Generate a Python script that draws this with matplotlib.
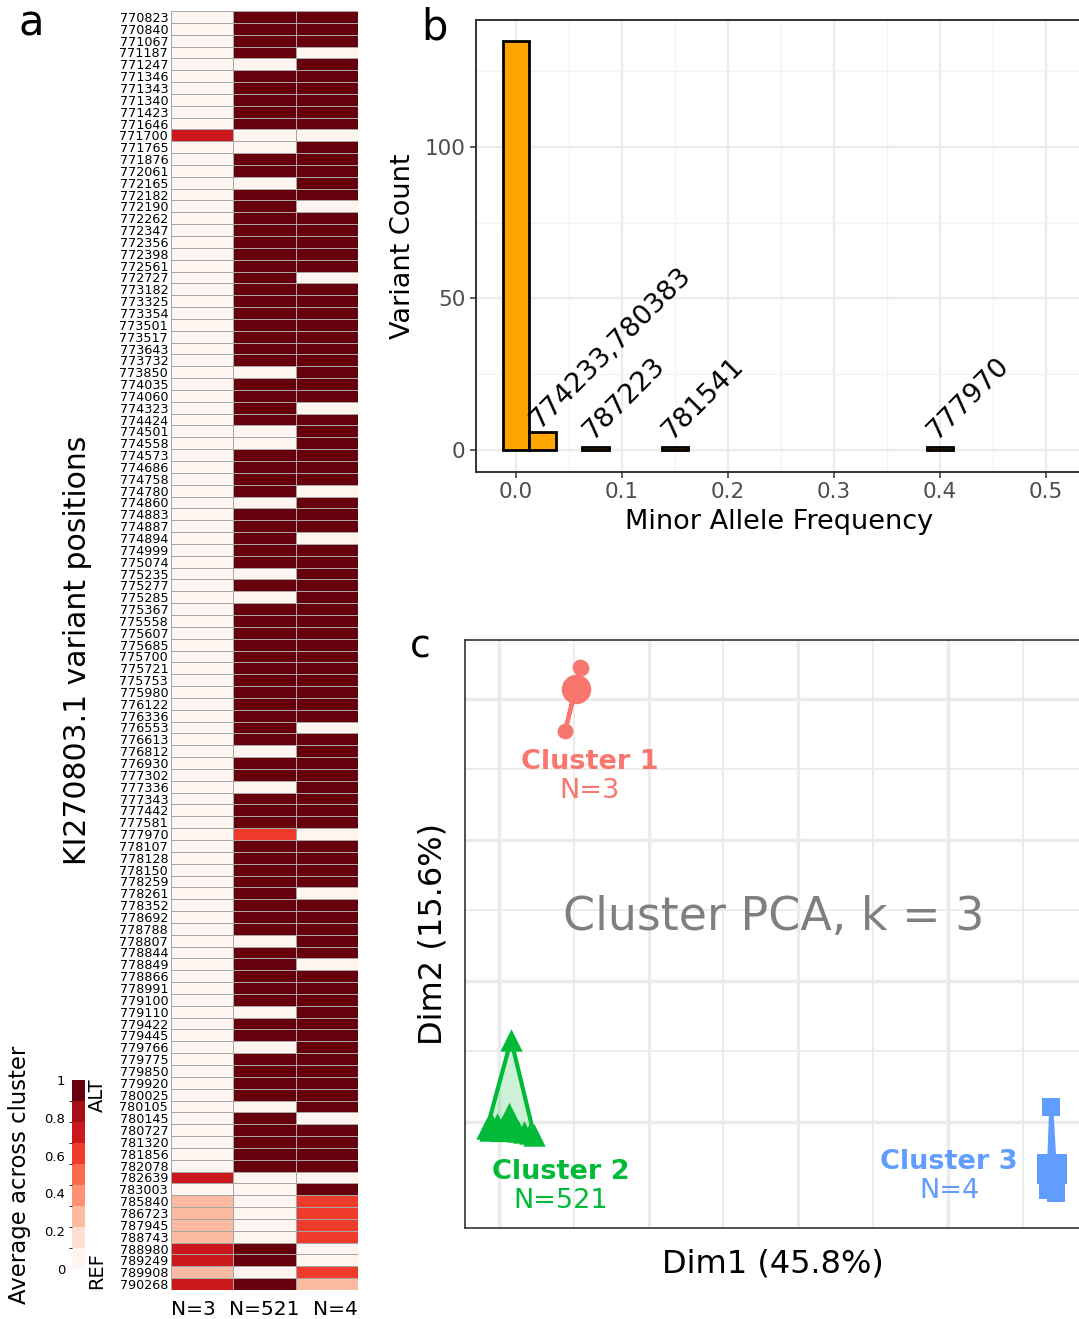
import numpy as np
import matplotlib
matplotlib.use("Agg")
import matplotlib.pyplot as plt
from matplotlib.colors import ListedColormap, BoundaryNorm
import matplotlib.colorbar as mcolorbar

plt.rcParams['font.family'] = ['DejaVu Sans']

# ---------------- Panel a data ----------------
positions = [
    770823, 770840, 771067, 771187, 771247, 771346, 771343, 771340, 771423, 771646,
    771700, 771765, 771876, 772061, 772165, 772182, 772190, 772262, 772347, 772356,
    772398, 772561, 772727, 773182, 773325, 773354, 773501, 773517, 773643, 773732,
    773850, 774035, 774060, 774323, 774424, 774501, 774558, 774573, 774686, 774758,
    774780, 774860, 774883, 774887, 774894, 774999, 775074, 775235, 775277, 775285,
    775367, 775558, 775607, 775685, 775700, 775721, 775753, 775980, 776122, 776336,
    776553, 776613, 776812, 776930, 777302, 777336, 777343, 777442, 777581, 777970,
    778107, 778128, 778150, 778259, 778261, 778352, 778692, 778788, 778807, 778844,
    778849, 778866, 778991, 779100, 779110, 779422, 779445, 779766, 779775, 779850,
    779920, 780025, 780105, 780145, 780727, 781320, 781856, 782078, 782639, 783003,
    785840, 786723, 787945, 788743, 788980, 789249, 789908, 790268]

cluster_N3 = [
    0, 0, 0, 0, 0, 0, 0, 0, 0, 0,
    0.67, 0, 0, 0, 0, 0, 0, 0, 0, 0,
    0, 0, 0, 0, 0, 0, 0, 0, 0, 0,
    0, 0, 0, 0, 0, 0, 0, 0, 0, 0,
    0, 0, 0, 0, 0, 0, 0, 0, 0, 0,
    0, 0, 0, 0, 0, 0, 0, 0, 0, 0,
    0, 0, 0, 0, 0, 0, 0, 0, 0, 0,
    0, 0, 0, 0, 0, 0, 0, 0, 0, 0,
    0, 0, 0, 0, 0, 0, 0, 0, 0, 0,
    0, 0, 0, 0, 0, 0, 0, 0, 0.67, 0,
    0.33, 0.33, 0.33, 0.33, 0.67, 0.67, 0.33, 0.67]

cluster_N521 = [
    1, 1, 1, 1, 0, 1, 1, 1, 1, 1,
    0, 0, 1, 1, 0, 1, 1, 1, 1, 1,
    1, 1, 1, 1, 1, 1, 1, 1, 1, 1,
    0, 1, 1, 1, 1, 0, 0, 1, 1, 1,
    1, 0, 1, 1, 1, 1, 1, 0, 1, 0,
    1, 1, 1, 1, 1, 1, 1, 1, 1, 1,
    1, 1, 0, 1, 1, 0, 1, 1, 1, 0.6,
    1, 1, 1, 1, 1, 1, 1, 1, 0, 1,
    1, 1, 1, 1, 0, 1, 1, 0, 1, 1,
    1, 1, 0, 1, 1, 1, 1, 1, 0, 0,
    0, 0, 0, 0, 1, 1, 0, 1]

cluster_N4 = [
    1, 1, 1, 0, 1, 1, 1, 1, 1, 1,
    0, 1, 1, 1, 1, 1, 0, 1, 1, 1,
    1, 1, 0, 1, 1, 1, 1, 1, 1, 1,
    1, 1, 1, 0, 1, 1, 1, 1, 1, 1,
    0, 1, 1, 1, 0, 1, 1, 1, 1, 1,
    1, 1, 1, 1, 1, 1, 1, 1, 1, 1,
    0, 1, 1, 1, 1, 1, 1, 1, 1, 0,
    1, 1, 1, 1, 0, 1, 1, 1, 1, 1,
    0, 1, 1, 1, 1, 1, 1, 1, 1, 1,
    1, 1, 1, 0, 1, 1, 1, 1, 0, 1,
    0.6, 0.6, 0.6, 0.6, 0, 0, 0.6, 0.25]

cluster_labels = ["N=3", "N=521", "N=4"]
legend_ticks = [0, 0.2, 0.4, 0.6, 0.8, 1]
legend_ticklabels = ["0", "0.2", "0.4", "0.6", "0.8", "1"]

# ---------------- Panel b data ----------------
maf_bins = [0.0, 0.025, 0.075, 0.15, 0.4]
maf_counts = [135, 6, 1, 1, 1]
maf_bin_width = 0.025
maf_label_bins = [0.025, 0.075, 0.15, 0.4]
maf_label_counts = [6, 1, 1, 1]
maf_labels = ["774233,780383", "787223", "781541", "777970"]
maf_label_dy = [0.8, 2.3, 2.3, 2.3]

# ---------------- Panel c data ----------------
c1_dim1 = [2.72, 2.74, 2.21]
c1_dim2 = [16.13, 16.10, 13.87]
c2_dim1 = [0.40, -0.40, -0.23, -0.07, 0.10, 0.27, 0.44, 0.64, 0.84, 1.04, 1.17, -0.30]
c2_dim2 = [2.91, -0.21, -0.11, -0.07, -0.18, -0.25, -0.28, -0.32, -0.35, -0.39, -0.46, -0.28]
c3_dim1 = [18.46, 18.36, 18.62, 18.52]
c3_dim2 = [0.53, -2.41, -2.52, -2.23]
cluster_names = ["Cluster 1", "Cluster 2", "Cluster 3"]
cluster_sizes = ["N=3", "N=521", "N=4"]
cluster_colors = ["#F8766D", "#00BA38", "#619CFF"]
cluster_markers = ["o", "^", "s"]
label_dim1 = [3.02, 2.05, 15.05]
label_dim2 = [12.76, -1.78, -1.42]

# =================================================
W, H = 1079, 1319
fig = plt.figure(figsize=(W / 100, H / 100), dpi=100)
fig.patch.set_facecolor("white")


def fx(px):
    return px / W


def fy(py):
    return 1 - py / H


reds9 = ['#FFF5F0', '#FEE0D2', '#FCBBA1', '#FC9272', '#FB6A4A',
         '#EF3B2C', '#CB181D', '#A50F15', '#67000D']
cmap = ListedColormap(reds9)
norm = BoundaryNorm(np.linspace(0, 1, 10), cmap.N)

# ---------------- Panel a ----------------
axa = fig.add_axes([fx(171), fy(1290), fx(358) - fx(171), fy(11) - fy(1290)])
mat = np.array([cluster_N3, cluster_N521, cluster_N4]).T
nrow = mat.shape[0]
axa.pcolormesh(np.arange(4), np.arange(nrow + 1), mat, cmap=cmap, norm=norm,
               edgecolors="#A6A6A6", linewidth=0.55)
axa.set_ylim(nrow, 0)
axa.set_xlim(0, 3)
axa.set_yticks(np.arange(nrow) + 0.5)
axa.set_yticklabels([str(p) for p in positions], fontsize=9.2)
axa.set_xticks([0, 1.5, 3])
axa.set_xticklabels(cluster_labels, fontsize=14.5)
for lab, ha in zip(axa.get_xticklabels(), ["left", "center", "right"]):
    lab.set_ha(ha)
axa.tick_params(length=0, pad=2)
axa.tick_params(axis="x", pad=7)
for s in axa.spines.values():
    s.set_visible(False)
fig.text(fx(78), fy(650), "KI270803.1 variant positions", rotation=90,
         ha="center", va="center", fontsize=21.5)

# legend colorbar
axcb = fig.add_axes([fx(72), fy(1269), fx(13), (1269 - 1080) / H])
cb = mcolorbar.ColorbarBase(axcb, cmap=cmap, norm=norm, orientation="vertical",
                            ticks=legend_ticks)
cb.outline.set_visible(False)
cb.ax.yaxis.set_ticks_position("left")
cb.ax.set_yticklabels(legend_ticklabels, fontsize=9.5)
cb.ax.tick_params(length=0, pad=5)
fig.text(fx(97), fy(1078), "ALT", rotation=90, ha="center", va="top", fontsize=14)
fig.text(fx(97), fy(1289), "REF", rotation=90, ha="center", va="bottom", fontsize=14)
fig.text(fx(20), fy(1175), "Average across cluster", rotation=90, ha="center",
         va="center", fontsize=16.4)

# ---------------- Panel b ----------------
axb = fig.add_axes([fx(476), fy(472), 1.002 - fx(476), fy(20) - fy(472)])
axb.bar(maf_bins, maf_counts, width=maf_bin_width, color="#FFA500",
        edgecolor="black", linewidth=2.0, zorder=3)
for xb, cnt, lab, dy in zip(maf_label_bins, maf_label_counts, maf_labels, maf_label_dy):
    axb.text(xb - 0.003, cnt + dy, lab, rotation=45, rotation_mode="anchor",
             ha="left", va="baseline", fontsize=19.5, zorder=4)
axb.set_xlim(-0.0377, 0.533)
axb.set_ylim(-7.3, 141.9)
axb.set_xticks([0, 0.1, 0.2, 0.3, 0.4, 0.5])
axb.set_xticklabels(["0.0", "0.1", "0.2", "0.3", "0.4", "0.5"])
axb.set_xticks([0.05, 0.15, 0.25, 0.35, 0.45], minor=True)
axb.set_yticks([0, 50, 100])
axb.set_yticks([25, 75, 125], minor=True)
axb.grid(which="major", color="#EBEBEB", linewidth=1.6, zorder=0)
axb.grid(which="minor", color="#F2F2F2", linewidth=0.9, zorder=0)
axb.set_axisbelow(True)
axb.tick_params(which="major", labelsize=15.5, labelcolor="#4D4D4D",
                color="#333333", length=4, width=1.1)
axb.tick_params(which="minor", length=0)
for s in axb.spines.values():
    s.set_color("#333333")
    s.set_linewidth(1.4)
axb.set_ylabel("Variant Count", fontsize=19.5, labelpad=6)
axb.set_xlabel("Minor Allele Frequency", fontsize=19.5, labelpad=5)

# ---------------- Panel c ----------------
axc = fig.add_axes([fx(465), fy(1228), 1.002 - fx(465), fy(640) - fy(1228)])
axc.set_xlim(-1.14, 19.46)
axc.set_ylim(-3.76, 17.09)
axc.set_xticks([0, 5, 10, 15])
axc.set_xticks([2.5, 7.5, 12.5, 17.5], minor=True)
axc.set_yticks([0, 5, 10, 15])
axc.set_yticks([2.5, 7.5, 12.5], minor=True)
axc.grid(which="major", color="#EBEBEB", linewidth=2.4, zorder=0)
axc.grid(which="minor", color="#EBEBEB", linewidth=1.3, zorder=0)
axc.set_axisbelow(True)
axc.tick_params(which="both", length=0, labelbottom=False, labelleft=False)
for s in axc.spines.values():
    s.set_color("#333333")
    s.set_linewidth(1.2)


def convex_hull(pts):
    pts = sorted(set(pts))
    if len(pts) <= 2:
        return pts

    def cross(o, a, b):
        return (a[0] - o[0]) * (b[1] - o[1]) - (a[1] - o[1]) * (b[0] - o[0])
    lower, upper = [], []
    for p in pts:
        while len(lower) >= 2 and cross(lower[-2], lower[-1], p) <= 0:
            lower.pop()
        lower.append(p)
    for p in reversed(pts):
        while len(upper) >= 2 and cross(upper[-2], upper[-1], p) <= 0:
            upper.pop()
        upper.append(p)
    return lower[:-1] + upper[:-1]


groups = [(c1_dim1, c1_dim2), (c2_dim1, c2_dim2), (c3_dim1, c3_dim2)]
small_sizes = [130, 260, 160]
big_sizes = [450, 800, 470]
for i, (xs, ys) in enumerate(groups):
    col = cluster_colors[i]
    hull = convex_hull(list(zip(xs, ys)))
    hx = [p[0] for p in hull] + [hull[0][0]]
    hy = [p[1] for p in hull] + [hull[0][1]]
    axc.fill(hx, hy, color=col, alpha=0.2, zorder=2, linewidth=0)
    axc.plot(hx, hy, color=col, linewidth=3, zorder=3, solid_joinstyle="round")
    axc.scatter(xs, ys, s=small_sizes[i], marker=cluster_markers[i], color=col,
                zorder=4, linewidths=0)
    axc.scatter([np.mean(xs)], [np.mean(ys)], s=big_sizes[i],
                marker=cluster_markers[i], color=col, zorder=5, linewidths=0)
    axc.text(label_dim1[i], label_dim2[i], cluster_names[i], color=col,
             fontsize=19.5, fontweight="bold", ha="center", va="center", zorder=6)
    axc.text(label_dim1[i], label_dim2[i] - 1.03, cluster_sizes[i], color=col,
             fontsize=19.5, ha="center", va="center", zorder=6)

axc.text(9.19, 7.25, "Cluster PCA, k = 3", color="#7F7F7F", fontsize=33,
         ha="center", va="center", zorder=6)
axc.set_xlabel("Dim1 (45.8%)", fontsize=23, labelpad=15)
axc.set_ylabel("Dim2 (15.6%)", fontsize=23, labelpad=12)

# panel letters
fig.text(fx(31), fy(24), "a", fontsize=30, ha="center", va="center")
fig.text(fx(434), fy(28), "b", fontsize=30, ha="center", va="center")
fig.text(fx(420), fy(647), "c", fontsize=27, ha="center", va="center")

fig.savefig("out.png", dpi=100, facecolor="white")
